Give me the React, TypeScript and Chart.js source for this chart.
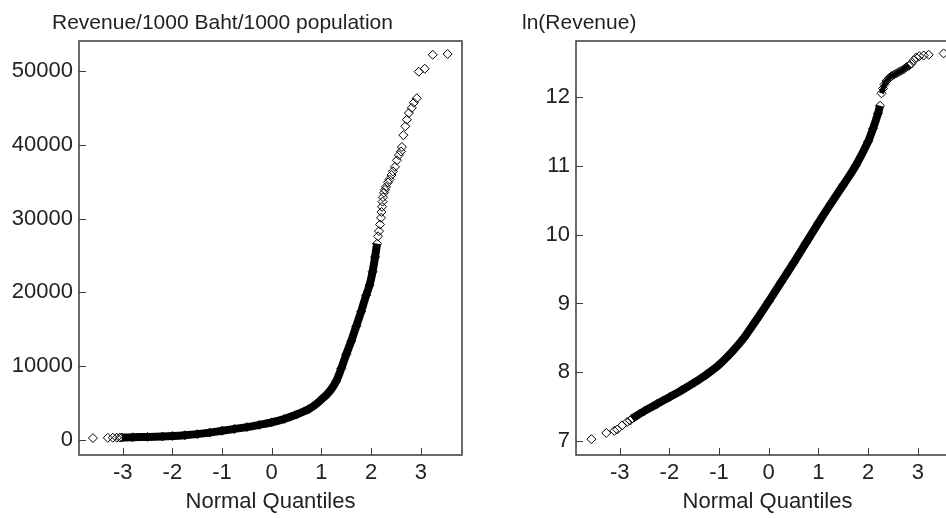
import React, { useEffect, useRef } from 'react';
import { Chart, registerables } from 'chart.js';

Chart.register(...registerables);

const LEFT_TITLE = 'Revenue/1000 Baht/1000 population';
const RIGHT_TITLE = 'ln(Revenue)';
const X_LABEL = 'Normal Quantiles';

const X_TICKS = [-3, -2, -1, 0, 1, 2, 3];
const LEFT_Y_TICKS = [0, 10000, 20000, 30000, 40000, 50000];
const RIGHT_Y_TICKS = [7, 8, 9, 10, 11, 12];

// Left panel: Revenue/1000 Baht/1000 population
const LEFT_LOW_Q = [-3.6, -3.3, -3.2, -3.12, -3.06];
const LEFT_LOW_V = [260, 300, 310, 320, 330];

const LEFT_BAND_Q = [-3.02, -2.8, -2.5, -2.2, -2.0, -1.75, -1.5, -1.25, -1.0, -0.75, -0.5, -0.25, 0, 0.25, 0.5, 0.75, 0.9, 1.0, 1.1, 1.2, 1.3, 1.4, 1.5, 1.6, 1.7, 1.8, 1.9, 1.97, 2.03, 2.08, 2.12];
const LEFT_BAND_V = [340, 370, 420, 480, 540, 650, 800, 1000, 1250, 1500, 1750, 2050, 2400, 2850, 3450, 4200, 4900, 5500, 6100, 6900, 8000, 9700, 11600, 13400, 15400, 17400, 19600, 21000, 22800, 24800, 26600];

const LEFT_HIGH_Q = [2.14, 2.16, 2.18, 2.2, 2.21, 2.22, 2.23, 2.24, 2.26, 2.28, 2.3, 2.34, 2.37, 2.41, 2.44, 2.48, 2.52, 2.56, 2.6, 2.62, 2.65, 2.69, 2.72, 2.76, 2.82, 2.86, 2.92, 2.96, 3.08, 3.24, 3.54];
const LEFT_HIGH_V = [27600, 28300, 29200, 30100, 30900, 31600, 32300, 32900, 33500, 33900, 34300, 34900, 35300, 35900, 36400, 37000, 37900, 38600, 39100, 39700, 41300, 42500, 43400, 44300, 45000, 45700, 46300, 49900, 50300, 52200, 52300];

// Right panel: ln(Revenue)
const RIGHT_LOW_Q = [-3.57, -3.27, -3.11, -3.05, -2.95, -2.85, -2.79];
const RIGHT_LOW_V = [7.03, 7.12, 7.15, 7.17, 7.23, 7.28, 7.3];

const RIGHT_BAND_Q = [-2.75, -2.5, -2.25, -2.0, -1.75, -1.5, -1.25, -1.0, -0.75, -0.5, -0.25, 0, 0.25, 0.5, 0.75, 1.0, 1.25, 1.5, 1.75, 2.0, 2.1, 2.2, 2.24];
const RIGHT_BAND_V = [7.33, 7.44, 7.54, 7.64, 7.74, 7.85, 7.97, 8.11, 8.29, 8.5, 8.76, 9.03, 9.31, 9.59, 9.88, 10.17, 10.45, 10.72, 11.0, 11.35, 11.54, 11.76, 11.87];

const RIGHT_UPPER_Q = [2.27, 2.3, 2.33, 2.37, 2.42, 2.47, 2.52, 2.57, 2.62, 2.67, 2.72, 2.77, 2.82];
const RIGHT_UPPER_V = [12.05, 12.12, 12.18, 12.23, 12.27, 12.3, 12.32, 12.34, 12.36, 12.38, 12.4, 12.43, 12.45];

const RIGHT_HIGH_Q = [2.87, 2.92, 2.97, 3.03, 3.12, 3.22, 3.52];
const RIGHT_HIGH_V = [12.48, 12.53, 12.57, 12.59, 12.6, 12.61, 12.63];

const FONT_FAMILY = '"Liberation Sans", Arial, Helvetica, sans-serif';
const TEXT_COLOR = '#222';
const FRAME_COLOR = '#3a3a3a';

const zip = (q: number[], v: number[]) => q.map((x, i) => ({ x, y: v[i] }));

const pointStyleOpts = {
  pointStyle: 'rectRot',
  pointRadius: 4.5,
  pointBorderWidth: 1,
  pointBorderColor: '#000',
  pointBackgroundColor: 'rgba(0,0,0,0)',
};

const framePlugin = {
  id: 'frameAndTicks',
  afterDraw(chart: any) {
    const { ctx, chartArea: ca } = chart;
    const xs = chart.scales.x;
    const ys = chart.scales.y;
    ctx.save();
    ctx.strokeStyle = FRAME_COLOR;
    ctx.lineWidth = 1.5;
    ctx.strokeRect(ca.left, ca.top, ca.right - ca.left, ca.bottom - ca.top);
    ctx.lineWidth = 1;
    ctx.beginPath();
    for (const t of xs.ticks) {
      const px = Math.round(xs.getPixelForValue(t.value)) + 0.5;
      ctx.moveTo(px, ca.bottom);
      ctx.lineTo(px, ca.bottom - 7);
    }
    for (const t of ys.ticks) {
      const py = Math.round(ys.getPixelForValue(t.value)) + 0.5;
      ctx.moveTo(ca.left, py);
      ctx.lineTo(ca.left + 7, py);
    }
    ctx.stroke();
    const opts = chart.options.plugins.panelTitle;
    if (opts && opts.text) {
      ctx.fillStyle = TEXT_COLOR;
      ctx.font = `21px ${FONT_FAMILY}`;
      ctx.textAlign = 'left';
      ctx.textBaseline = 'alphabetic';
      ctx.fillText(opts.text, opts.x, opts.y);
    }
    ctx.restore();
  },
};

type Pt = { x: number; y: number };
type PanelProps = {
  left: number;
  width: number;
  yAxisWidth: number;
  padRight: number;
  title: string;
  titleX: number;
  yMin: number;
  yMax: number;
  yTicks: number[];
  low: Pt[];
  band: Pt[];
  upper: Pt[];
  high: Pt[];
};

function Panel(p: PanelProps) {
  const ref = useRef<HTMLCanvasElement | null>(null);
  useEffect(() => {
    if (!ref.current) return;
    const font = { family: FONT_FAMILY, size: 22, lineHeight: 1.2 };
    const chart = new Chart(ref.current, {
      type: 'scatter',
      data: {
        datasets: [
          { data: p.low, showLine: false, ...pointStyleOpts } as any,
          {
            data: p.band,
            showLine: true,
            borderWidth: 8,
            borderColor: '#000',
            tension: 0.3,
            borderCapStyle: 'butt',
            borderJoinStyle: 'round',
            ...pointStyleOpts,
          } as any,
          {
            data: p.upper,
            showLine: true,
            borderWidth: 5,
            borderColor: '#000',
            tension: 0.3,
            borderCapStyle: 'butt',
            borderJoinStyle: 'round',
            ...pointStyleOpts,
          } as any,
          { data: p.high, showLine: false, ...pointStyleOpts } as any,
        ],
      },
      options: {
        animation: false,
        responsive: false,
        maintainAspectRatio: false,
        devicePixelRatio: 1,
        layout: { padding: { top: 41, right: p.padRight, bottom: 0, left: 0 } },
        plugins: {
          legend: { display: false },
          tooltip: { enabled: false },
          panelTitle: { text: p.title, x: p.titleX, y: 29 },
        } as any,
        scales: {
          x: {
            type: 'linear',
            min: -3.88,
            max: 3.83,
            afterBuildTicks: (s: any) => {
              s.ticks = X_TICKS.map((v) => ({ value: v }));
            },
            afterFit: (s: any) => {
              s.height = 63;
            },
            grid: { display: false, drawTicks: false },
            border: { display: false },
            ticks: {
              autoSkip: false,
              maxRotation: 0,
              padding: 5,
              color: TEXT_COLOR,
              font,
              callback: (v: any) => String(v),
            },
            title: {
              display: true,
              text: X_LABEL,
              color: TEXT_COLOR,
              font,
              padding: { top: 0, bottom: 3 },
            },
          },
          y: {
            type: 'linear',
            min: p.yMin,
            max: p.yMax,
            afterBuildTicks: (s: any) => {
              s.ticks = p.yTicks.map((v) => ({ value: v }));
            },
            afterFit: (s: any) => {
              s.width = p.yAxisWidth;
            },
            grid: { display: false, drawTicks: false },
            border: { display: false },
            ticks: {
              autoSkip: false,
              padding: 6,
              color: TEXT_COLOR,
              font,
              callback: (v: any) => String(v),
            },
          },
        },
      },
      plugins: [framePlugin],
    });
    return () => chart.destroy();
  }, []);
  return (
    <canvas
      ref={ref}
      width={p.width}
      height={518}
      style={{ position: 'absolute', left: p.left, top: 0, width: p.width, height: 518, display: 'block' }}
    />
  );
}

export default function App() {
  return (
    <div
      style={{
        position: 'fixed',
        left: 0,
        top: 0,
        width: 946,
        height: 518,
        overflow: 'hidden',
        background: '#fff',
      }}
    >
      <Panel
        left={0}
        width={480}
        yAxisWidth={79}
        padRight={18}
        title={LEFT_TITLE}
        titleX={52}
        yMin={-2030}
        yMax={54060}
        yTicks={LEFT_Y_TICKS}
        low={zip(LEFT_LOW_Q, LEFT_LOW_V)}
        band={zip(LEFT_BAND_Q, LEFT_BAND_V)}
        upper={[]}
        high={zip(LEFT_HIGH_Q, LEFT_HIGH_V)}
      />
      <Panel
        left={480}
        width={500}
        yAxisWidth={96}
        padRight={21}
        title={RIGHT_TITLE}
        titleX={42}
        yMin={6.8}
        yMax={12.81}
        yTicks={RIGHT_Y_TICKS}
        low={zip(RIGHT_LOW_Q, RIGHT_LOW_V)}
        band={zip(RIGHT_BAND_Q, RIGHT_BAND_V)}
        upper={zip(RIGHT_UPPER_Q, RIGHT_UPPER_V)}
        high={zip(RIGHT_HIGH_Q, RIGHT_HIGH_V)}
      />
    </div>
  );
}
